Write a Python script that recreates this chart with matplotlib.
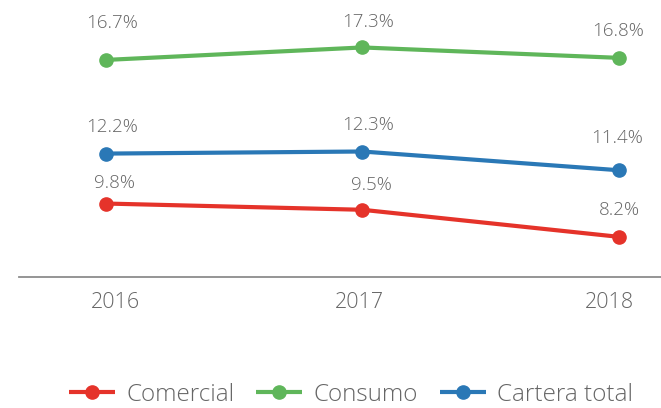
import numpy as np
import matplotlib.pyplot as plt

# data
years = ['2016', '2017', '2018']
comercial = [9.8, 9.5, 8.2]
consumo = [16.7, 17.3, 16.8]
cartera_total = [12.2, 12.3, 11.4]

plt.rcParams['font.family'] = ['Open Sans', 'DejaVu Sans']
txt_color = '#666666'

fig = plt.figure(figsize=(6.61, 4.08), dpi=100)
ax = fig.add_axes([19/661, 131/408, 642/661, 277/408])

x = np.arange(len(years))
# label offsets in pixels (dx, dy) per point
series = [
    ('Comercial', comercial, '#e5332a', [(9, 21), (9, 25), (1, 27)]),
    ('Consumo', consumo, '#5fb65a', [(6, 37), (6, 25), (-1, 27)]),
    ('Cartera total', cartera_total, '#2a78b6', [(6, 27), (6, 27), (-2, 32)]),
]

for name, vals, col, offs in series:
    ax.plot(x, vals, color=col, lw=3, marker='o', ms=9.5, label=name,
            solid_capstyle='butt')
    for xi, v, (dx, dy) in zip(x, vals, offs):
        ax.annotate(f'{v:.1f}%', (xi, v), xytext=(dx, dy), textcoords='offset pixels',
                    ha='center', va='center', fontsize=13.5, color=txt_color,
                    fontweight='light')

ax.set_xlim(-0.338, 2.164)
ax.set_ylim(6.27, 19.58)
ax.set_xticks(x)
ax.set_xticklabels([])
# year labels, nudged like the original
for xi, yr, dx in zip(x, years, [10, -3, -9]):
    ax.annotate(yr, (xi, 0), xycoords=('data', 'axes fraction'), xytext=(dx, -26),
                textcoords='offset pixels', ha='center', va='center',
                fontsize=15.5, color=txt_color, fontweight='light')
ax.set_yticks([])
ax.tick_params(axis='x', length=0)
for s in ['left', 'right', 'top']:
    ax.spines[s].set_visible(False)
ax.spines['bottom'].set_color('#8c8c8c')
ax.spines['bottom'].set_linewidth(1.3)

leg = fig.legend(loc='center', bbox_to_anchor=(351/661, 1 - 395/408), ncol=3,
                 frameon=False, handlelength=1.9, handletextpad=0.45,
                 columnspacing=0.9, borderpad=0,
                 prop={'size': 17.5, 'weight': 'light'})
for t in leg.get_texts():
    t.set_color(txt_color)

fig.savefig('out.png', dpi=100)
